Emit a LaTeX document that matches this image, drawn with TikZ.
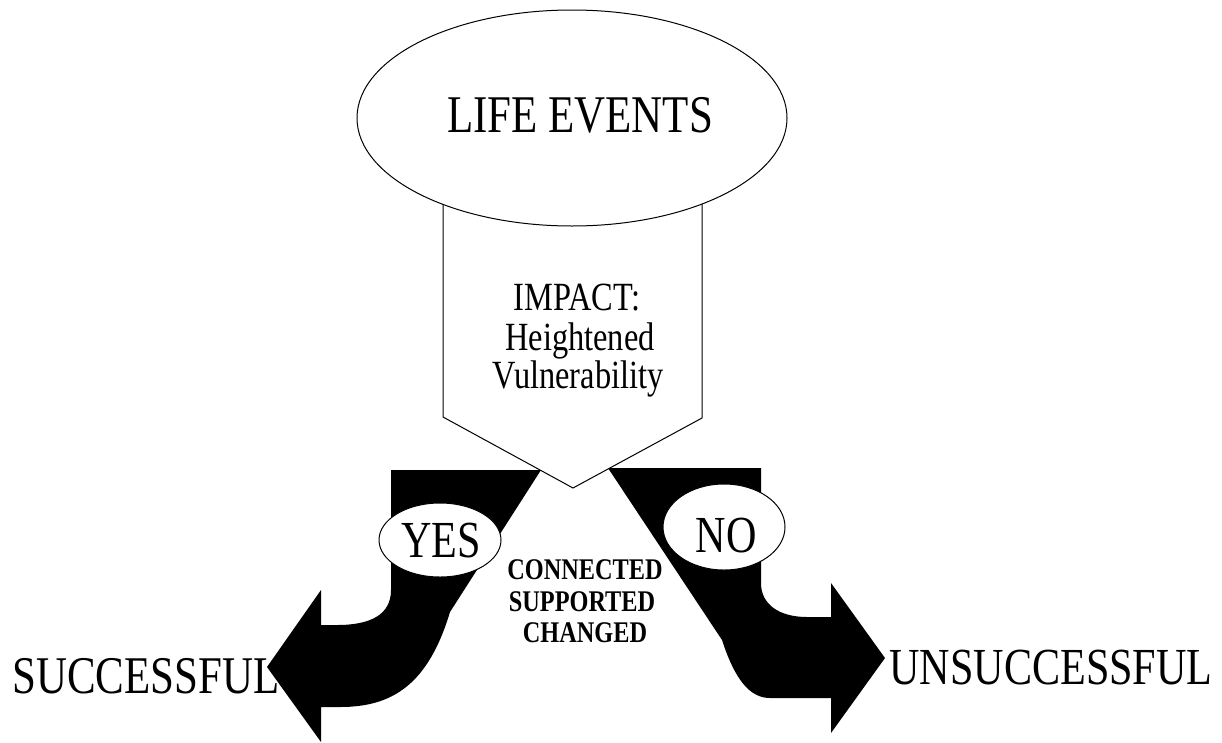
\documentclass[tikz,border=0pt]{standalone}
\usepackage{fontspec}
\setmainfont{Liberation Serif}[FakeStretch=0.81]
\usetikzlibrary{shapes.geometric}
\tikzset{
  lbl/.style={inner sep=0pt, anchor=base, text=black},
  big/.style={lbl, font=\fontsize{53}{53}\selectfont},
  mid/.style={lbl, font=\fontsize{40}{40}\selectfont},
  small/.style={lbl, font=\fontsize{30}{30}\selectfont\bfseries},
  outline/.style={draw=black, line width=1pt, fill=white},
  bigarrow/.style={fill=black, draw=none}
}
\begin{document}
\begin{tikzpicture}[x=1pt,y=-1pt]
\useasboundingbox (0,0) rectangle (1222,742);
% outcome labels (under the arrows)
\node[big] (succ) at (146,693) {SUCCESSFUL};
\node[lbl, font=\fontsize{52}{52}\selectfont] (unsucc) at (1051,684) {UNSUCCESSFUL};
% left arrow (YES)
\path[bigarrow] (391,470) -- (541,470) -- (450,612)
  .. controls (428,685) and (392,707) .. (340,707) -- (321,707) -- (321,742)
  -- (267,667) -- (321,590) -- (321,625) -- (337,625)
  .. controls (370,625) and (391,615) .. (391,590) -- cycle;
% right arrow (NO)
\path[bigarrow] (608,468) -- (761,468) -- (761,583)
  .. controls (761,605) and (780,617) .. (807,617) -- (831,617) -- (831,583)
  -- (885,658) -- (831,733) -- (831,698) -- (770,698)
  .. controls (750,698) and (735,680) .. (722,640) -- cycle;
% impact pentagon
\path[outline] (443,150) -- (443,417) -- (573,488) -- (702,418) -- (702,150) -- cycle;
% life events ellipse
\node[outline, ellipse, minimum width=430pt, minimum height=216pt, inner sep=0pt] (life) at (572,118) {};
\node[big] (lifet) at (580,132) {LIFE EVENTS};
% impact text
\node[mid] (imp1) at (577,310) {IMPACT:};
\node[mid] (imp2) at (580,350) {Heightened};
\node[mid] (imp3) at (578,388) {Vulnerability};
% yes / no ovals
\node[outline, ellipse, minimum width=122pt, minimum height=74pt, inner sep=0pt] (yes) at (440,540) {};
\node[lbl, font=\fontsize{52}{52}\selectfont] (yest) at (441,557) {YES};
\node[outline, ellipse, minimum width=122pt, minimum height=86pt, inner sep=0pt] (no) at (724,527) {};
\node[lbl, font=\fontsize{52}{52}\selectfont] (not) at (726,552) {NO};
% middle bold text
\node[small] (c1) at (585,579) {CONNECTED};
\node[small] (c2) at (582,611) {SUPPORTED};
\node[small] (c3) at (585,642) {CHANGED};
\end{tikzpicture}
\end{document}
